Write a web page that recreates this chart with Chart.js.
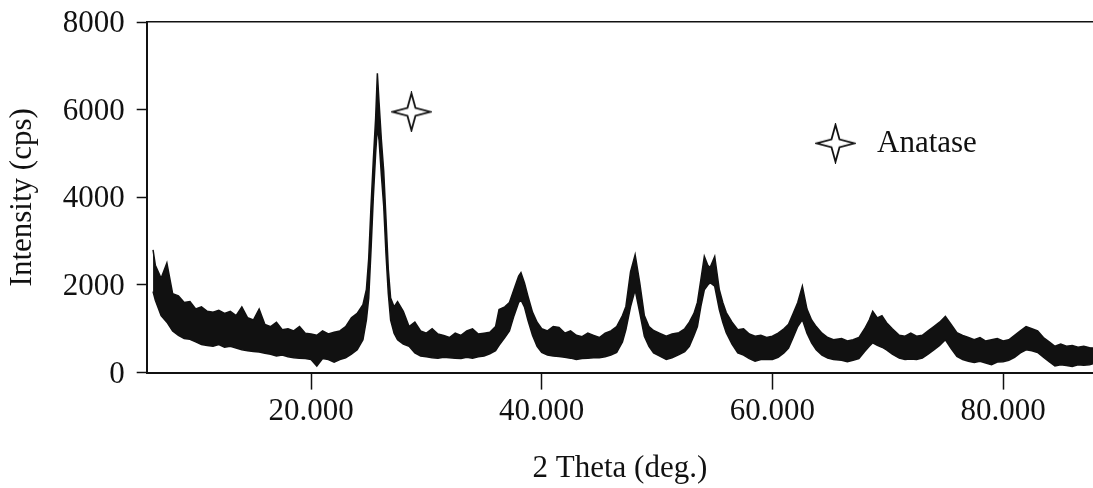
<!DOCTYPE html>
<html>
<head>
<meta charset="utf-8">
<script src="https://cdn.jsdelivr.net/npm/chart.js@4.4.1/dist/chart.umd.min.js"></script>
<style>
  html, body { margin: 0; padding: 0; background: #fff; }
</style>
</head>
<body>
<canvas id="xrdChart" width="1093" height="488"></canvas>
<script>
// 2-theta positions (deg.) with the upper and lower edge of the noisy trace at each one
const theta = [
  6.3, 6.5, 7.0, 7.5, 8.0, 8.5, 9.0, 9.5, 10.0,
  10.5, 11.0, 11.5, 12.0, 12.5, 13.0, 13.5, 14.0, 14.5, 15.0,
  15.5, 16.0, 16.5, 17.0, 17.5, 18.0, 18.5, 19.0, 19.5, 20.0,
  20.5, 21.0, 21.5, 22.0, 22.5, 23.0, 23.5, 24.0, 24.5,
  24.8, 25.0, 25.2, 25.4, 25.6, 25.75, 25.9, 26.1, 26.3, 26.5, 26.7, 26.9, 27.2,
  27.5, 28.0, 28.5, 29.0, 29.5, 30.0, 30.5, 31.0, 31.5, 32.0, 32.5, 33.0, 33.5, 34.0, 34.5, 35.0, 35.5, 36.0,
  36.3, 36.8, 37.2, 37.6, 38.0, 38.2, 38.5, 38.8, 39.2, 39.6, 40.0,
  40.5, 41.0, 41.5, 42.0, 42.5, 43.0, 43.5, 44.0, 44.5, 45.0, 45.5, 46.0, 46.5, 47.0,
  47.3, 47.7, 48.1, 48.5, 48.9, 49.3, 49.7,
  50.2, 50.8, 51.3, 51.9, 52.4, 52.8, 53.2, 53.5,
  53.8, 54.1, 54.4, 54.6, 55.0, 55.4, 55.7, 56.0, 56.5, 57.0,
  57.5, 58.0, 58.5, 59.0, 59.5, 60.0, 60.5, 61.0, 61.4,
  61.8, 62.2, 62.6, 63.0, 63.4, 63.8, 64.3, 64.8,
  65.3, 66.0, 66.5, 67.0, 67.5, 68.0, 68.4, 68.7, 69.1, 69.5, 69.9, 70.4, 71.0,
  71.5, 72.0, 72.5, 73.0, 73.5, 74.0, 74.5, 75.0, 75.5, 76.0, 76.5, 77.0, 77.5, 78.0, 78.5, 79.0, 79.5, 80.0,
  80.5, 81.0, 81.5, 82.0, 82.5, 83.0, 83.5, 84.0, 84.5, 85.0, 85.5, 86.0, 86.5, 87.0, 87.5, 87.8
];
const upper = [
  2800, 2450, 2150, 2500, 1800, 1750, 1600, 1620, 1450,
  1500, 1400, 1380, 1420, 1350, 1400, 1300, 1500, 1250, 1200,
  1450, 1100, 1050, 1150, 980, 1000, 950, 1050, 900, 880,
  850, 950, 880, 920, 950, 1050, 1250, 1350, 1550,
  1900, 2600, 3800, 4850, 5800, 6830, 6150, 5300, 4600, 3500, 2350, 1700, 1500,
  1620, 1400, 1050, 1150, 950, 900, 1000, 880, 850, 800, 900, 850, 950, 1000, 880, 900, 920, 1050,
  1440, 1500, 1600, 1900, 2200, 2280, 2050, 1750, 1380, 1150, 1000,
  950, 1050, 1030, 900, 950, 850, 820, 900, 850, 800, 900, 950, 1050, 1300,
  1510, 2300, 2690, 2050, 1300, 1050, 960,
  900, 830, 880, 910, 1000, 1150, 1350, 1600,
  2120, 2650, 2450, 2400, 2650, 1890, 1600, 1370, 1150, 980,
  1000, 880, 830, 850, 800, 830, 900, 1000, 1100,
  1350, 1600, 1970, 1450, 1200, 1050, 900, 800,
  750, 780, 720, 750, 800, 1000, 1200, 1400, 1250, 1300, 1140, 1000, 850,
  830, 900, 830, 850, 950, 1050, 1150, 1280, 1100, 910, 850, 800, 750, 800, 720, 750, 780, 720,
  750, 850, 950, 1050, 1000, 950, 800, 700, 600, 650, 600, 620, 580, 600, 570, 560
];
const lower = [
  1850, 1650, 1300, 1150, 950, 850, 780, 760, 700,
  640, 620, 600, 640, 580, 600, 560, 520, 500, 480,
  470, 440, 420, 380, 400, 360, 340, 330, 320, 300,
  150, 320, 300, 240, 300, 340, 420, 520, 750,
  1200, 1700, 2800, 4000, 5000, 5600, 5300, 4500, 3800, 2700, 1800, 1200, 900,
  750, 650, 600, 450, 380, 360, 340, 330, 350, 340, 330, 320, 350, 330, 360, 380, 430, 500,
  620, 800, 950, 1300, 1600, 1660, 1500, 1200, 850, 600, 460,
  400, 380, 370, 350, 330, 300, 320, 330, 340, 340, 360, 400, 460, 700,
  980, 1500, 1890, 1370, 830, 600, 450,
  380, 300, 340, 410, 480, 600, 850, 1050,
  1510, 1890, 2000, 2050, 1970, 1440, 1150, 910, 650, 450,
  400, 320, 260, 300, 300, 300, 350, 450, 560,
  800, 1050, 1210, 900, 680, 520, 400, 330,
  300, 280, 250, 280, 320, 480, 600, 680, 620, 580, 520, 420, 330,
  300, 310, 300, 330, 420, 520, 620, 750, 550, 370, 300, 260, 230, 260, 220, 180, 240, 250,
  280, 350, 450, 520, 500, 460, 350, 250, 150, 180, 160, 140, 180, 170, 180, 200
];
const anataseMark = [{ x: 28.7, y: 5950 }];
const xTicks = [20, 40, 60, 80];
const yTicks = [0, 2000, 4000, 6000, 8000];

const ink = '#111';
const serif = '"Liberation Serif", "Times New Roman", serif';
Chart.defaults.font.family = serif;
Chart.defaults.color = ink;

// four-pointed star used for the peak marker and the key
function starCanvas(r) {
  const c = document.createElement('canvas');
  const s = Math.ceil(r * 2 + 4);
  c.width = s; c.height = s;
  const g = c.getContext('2d');
  const m = s / 2, k = 4;
  g.beginPath();
  g.moveTo(m, m - r);
  g.lineTo(m + k, m - k);
  g.lineTo(m + r, m);
  g.lineTo(m + k, m + k);
  g.lineTo(m, m + r);
  g.lineTo(m - k, m + k);
  g.lineTo(m - r, m);
  g.lineTo(m - k, m - k);
  g.closePath();
  g.fillStyle = '#fff';
  g.fill();
  g.lineWidth = 1.8;
  g.lineJoin = 'miter';
  g.strokeStyle = ink;
  g.stroke();
  return c;
}
const star = starCanvas(18.5);

const keyPlugin = {
  id: 'anataseKey',
  afterDraw(chart) {
    const ctx = chart.ctx;
    ctx.save();
    ctx.drawImage(star, 835.5 - star.width / 2, 143.3 - star.height / 2);
    ctx.font = '31px ' + serif;
    ctx.fillStyle = ink;
    ctx.textBaseline = 'alphabetic';
    ctx.fillText('Anatase', 877, 152);
    ctx.restore();
  }
};

function pts(vals) {
  return theta.map((t, i) => ({ x: t, y: vals[i] }));
}

new Chart(document.getElementById('xrdChart'), {
  type: 'line',
  data: {
    datasets: [
      {
        label: 'upper',
        data: pts(upper),
        borderColor: ink,
        backgroundColor: ink,
        borderWidth: 1.5,
        pointRadius: 0,
        tension: 0,
        fill: '+1'
      },
      {
        label: 'lower',
        data: pts(lower),
        borderColor: ink,
        borderWidth: 1.5,
        pointRadius: 0,
        tension: 0,
        fill: false
      },
      {
        label: 'Anatase',
        data: anataseMark,
        showLine: false,
        pointStyle: star,
        pointRadius: 18,
        clip: false
      }
    ]
  },
  options: {
    responsive: false,
    animation: false,
    devicePixelRatio: 1,
    layout: { autoPadding: false, padding: { top: 22, right: 0, bottom: 0, left: 0 } },
    plugins: {
      legend: { display: false },
      tooltip: { enabled: false }
    },
    scales: {
      x: {
        type: 'linear',
        min: 5.75,
        max: 87.8,
        afterBuildTicks: s => { s.ticks = xTicks.map(v => ({ value: v })); },
        border: { display: true, color: ink, width: 2 },
        grid: { display: true, drawOnChartArea: false, drawTicks: true, tickLength: 17, tickColor: ink, tickWidth: 1.5 },
        ticks: {
          padding: 4,
          font: { size: 31 },
          maxRotation: 0,
          callback: v => v.toFixed(3)
        },
        title: {
          display: true,
          text: '2 Theta (deg.)',
          font: { size: 31 },
          padding: { top: 15, bottom: 1 }
        }
      },
      xTop: {
        type: 'linear',
        position: 'top',
        min: 5.75,
        max: 87.8,
        border: { display: true, color: ink, width: 1.5 },
        grid: { display: false, drawTicks: false },
        ticks: { display: false }
      },
      y: {
        min: 0,
        max: 8000,
        afterBuildTicks: s => { s.ticks = yTicks.map(v => ({ value: v })); },
        // labels may hang past the plot's top edge, as the frame line sits at 8000
        afterFit: s => { s.paddingTop = 18; s.paddingBottom = 18; },
        border: { display: true, color: ink, width: 2 },
        grid: { display: true, drawOnChartArea: false, drawTicks: true, tickLength: 10, tickColor: ink, tickWidth: 1.5 },
        ticks: {
          padding: 12,
          labelOffset: 2,
          font: { size: 31 },
          callback: v => String(v)
        },
        title: {
          display: true,
          text: 'Intensity (cps)',
          font: { size: 31 },
          padding: { top: 4.5, bottom: 9 }
        }
      }
    }
  },
  plugins: [keyPlugin]
});
</script>
</body>
</html>
